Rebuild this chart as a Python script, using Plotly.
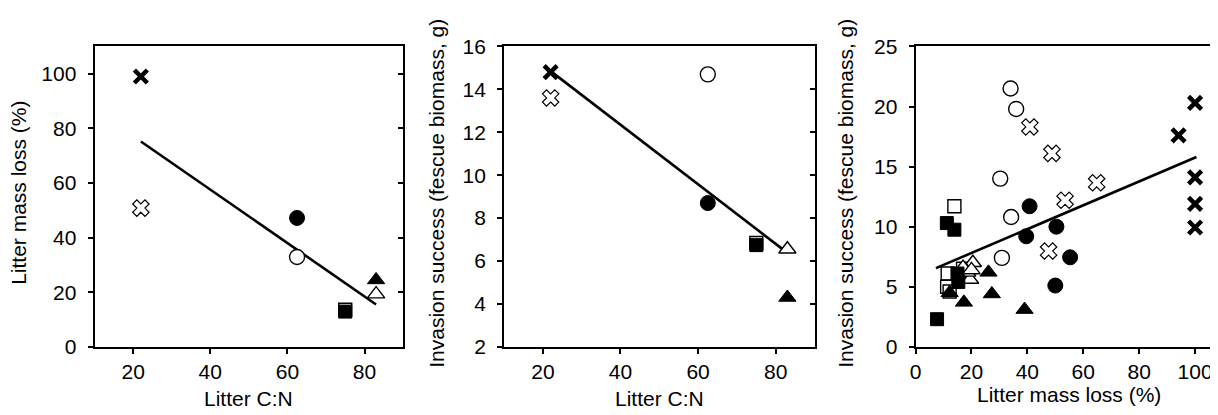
import plotly.graph_objects as go

# ---------------- data ----------------
# treatment order: thick X, open X, filled circle, open circle,
#                  open square, filled square, open triangle, filled triangle
treatments = ["X_filled", "X_open", "circle_filled", "circle_open",
              "square_open", "square_filled", "tri_open", "tri_filled"]

litter_cn = [22, 22, 62.5, 62.5, 75, 75, 83, 83]
mass_loss_mean = [99, 50.8, 47.2, 32.9, 13.6, 12.9, 19.3, 24.5]
invasion_mean = [14.8, 13.6, 8.7, 14.7, 6.84, 6.74, 6.55, 4.3]

# replicate data for panel 3: (mass loss %, invasion g)
ml_X_filled = [100, 94.1, 100, 100, 100]
inv_X_filled = [20.3, 17.6, 14.1, 11.9, 9.93]
ml_X_open = [40.9, 48.8, 64.8, 53.5, 47.6]
inv_X_open = [18.3, 16.1, 13.65, 12.2, 7.97]
ml_circle_open = [34.0, 36.0, 30.3, 34.2, 30.9]
inv_circle_open = [21.5, 19.8, 14.0, 10.8, 7.4]
ml_circle_filled = [40.8, 39.6, 50.4, 55.3, 50.0]
inv_circle_filled = [11.7, 9.2, 10.0, 7.45, 5.1]
ml_square_open = [13.9, 11.5, 11.3, 12.2, 17.0]
inv_square_open = [11.7, 6.1, 5.0, 4.6, 6.5]
ml_square_filled = [7.7, 11.2, 13.9, 15.0, 15.3]
inv_square_filled = [2.3, 10.3, 9.75, 6.1, 5.4]
ml_tri_open = [20.5, 19.5, 18.5, 17.0, 20.0]
inv_tri_open = [7.0, 5.6, 6.2, 6.6, 6.4]
ml_tri_filled = [12.2, 17.3, 26.1, 27.3, 39.0]
inv_tri_filled = [4.5, 3.7, 6.2, 4.4, 3.1]

# regression lines
fit1_x = [22, 83]
fit1_y = [75.2, 15.5]
fit2_x = [22, 82.5]
fit2_y = [14.85, 6.45]
fit3_x = [7.3, 100.5]
fit3_y = [6.55, 15.8]

# tick labels
x12_ticks = [20, 40, 60, 80]
y1_ticks = [0, 20, 40, 60, 80, 100]
y2_ticks = [2, 4, 6, 8, 10, 12, 14, 16]
x3_ticks = [0, 20, 40, 60, 80, 100]
y3_ticks = [0, 5, 10, 15, 20, 25]

# ---------------- styles ----------------
FONT = "Liberation Sans, Arial, sans-serif"
style = {
    "X_filled": dict(symbol="x-thin", size=13, color="black", line=dict(color="black", width=4.5)),
    "X_open": dict(symbol="x", size=14.5, color="white", line=dict(color="black", width=1.2)),
    "circle_filled": dict(symbol="circle", size=15, color="black", line=dict(color="black", width=1)),
    "circle_open": dict(symbol="circle", size=15, color="white", line=dict(color="black", width=1.4)),
    "square_open": dict(symbol="square", size=13, color="white", line=dict(color="black", width=1.4)),
    "square_filled": dict(symbol="square", size=13, color="black", line=dict(color="black", width=1)),
    "tri_open": dict(symbol="triangle-up", size=15, color="white", line=dict(color="black", width=1.4)),
    "tri_filled": dict(symbol="triangle-up", size=15, color="black", line=dict(color="black", width=1)),
}

panel3 = {
    "square_open": (ml_square_open, inv_square_open),
    "tri_open": (ml_tri_open, inv_tri_open),
    "square_filled": (ml_square_filled, inv_square_filled),
    "tri_filled": (ml_tri_filled, inv_tri_filled),
    "circle_open": (ml_circle_open, inv_circle_open),
    "circle_filled": (ml_circle_filled, inv_circle_filled),
    "X_open": (ml_X_open, inv_X_open),
    "X_filled": (ml_X_filled, inv_X_filled),
}

fig = go.Figure()

line_style = dict(color="black", width=2.6)

# panel 1 & 2
fig.add_trace(go.Scatter(x=fit1_x, y=fit1_y, mode="lines", line=line_style, xaxis="x", yaxis="y"))
fig.add_trace(go.Scatter(x=fit2_x, y=fit2_y, mode="lines", line=line_style, xaxis="x2", yaxis="y2"))
for i, t in enumerate(treatments):
    fig.add_trace(go.Scatter(x=[litter_cn[i]], y=[mass_loss_mean[i]], mode="markers",
                             marker=style[t], xaxis="x", yaxis="y"))
    fig.add_trace(go.Scatter(x=[litter_cn[i]], y=[invasion_mean[i]], mode="markers",
                             marker=style[t], xaxis="x2", yaxis="y2"))

# panel 3
fig.add_trace(go.Scatter(x=fit3_x, y=fit3_y, mode="lines", line=line_style, xaxis="x3", yaxis="y3"))
for t, (xs, ys) in panel3.items():
    fig.add_trace(go.Scatter(x=xs, y=ys, mode="markers", marker=style[t], xaxis="x3", yaxis="y3"))

# ---------------- axes ----------------
W, H = 1218, 415
def px_x(a, b):
    return [a / W, b / W]

ydom = [1 - 346 / H, 1 - 28 / H]
tickfont = dict(family=FONT, size=21, color="black")

def xax(dom, rng, ticks, anchor):
    return dict(domain=dom, range=rng, tickvals=ticks, anchor=anchor,
                showline=True, linewidth=2, linecolor="black", mirror=True,
                ticks="outside", ticklen=5, tickwidth=2, tickcolor="black",
                ticklabelstandoff=0,
                showgrid=False, zeroline=False, tickfont=tickfont, fixedrange=True)

def yax(rng, ticks, anchor):
    return dict(domain=ydom, range=rng, tickvals=ticks, anchor=anchor,
                showline=True, linewidth=2, linecolor="black", mirror=True,
                ticks="outside", ticklen=5, tickwidth=2, tickcolor="black",
                ticklabelstandoff=7,
                showgrid=False, zeroline=False, tickfont=tickfont, fixedrange=True)

def yright(rng, ticks, over, anchor):
    return dict(domain=ydom, range=rng, tickvals=ticks, overlaying=over, side="right",
                anchor=anchor, showline=False, ticks="inside", ticklen=5, tickwidth=2,
                tickcolor="black", showticklabels=False, showgrid=False, zeroline=False,
                fixedrange=True)

d1 = px_x(81, 391)
d2 = px_x(492.5, 804.5)
d3 = px_x(906, 1215)

fig.update_layout(
    width=W, height=H,
    margin=dict(l=0, r=0, t=0, b=0),
    paper_bgcolor="white", plot_bgcolor="white",
    showlegend=False,
    font=dict(family=FONT, color="black"),
    xaxis=xax(d1, [10, 90], x12_ticks, "y"),
    yaxis=yax([0, 110], y1_ticks, "x"),
    xaxis2=xax(d2, [10, 90], x12_ticks, "y2"),
    yaxis2=yax([2, 16], y2_ticks, "x2"),
    xaxis3=xax(d3, [0, 110], x3_ticks, "y3"),
    yaxis3=yax([0, 25], y3_ticks, "x3"),
    yaxis4=yright([0, 110], y1_ticks, "y", "x"),
    yaxis5=yright([2, 16], y2_ticks, "y2", "x2"),
    yaxis6=yright([0, 25], y3_ticks, "y3", "x3"),
)
# dummy traces to activate right axes
fig.add_trace(go.Scatter(x=[None], y=[None], xaxis="x", yaxis="y4", showlegend=False))
fig.add_trace(go.Scatter(x=[None], y=[None], xaxis="x2", yaxis="y5", showlegend=False))
fig.add_trace(go.Scatter(x=[None], y=[None], xaxis="x3", yaxis="y6", showlegend=False))

title_font = dict(family=FONT, size=21, color="black")
ymid = 1 - 183 / H
annots = [
    dict(text="Litter mass loss (%)", x=5 / W, y=ymid, textangle=-90),
    dict(text="Invasion success (fescue biomass, g)", x=425 / W, y=ymid, textangle=-90),
    dict(text="Invasion success (fescue biomass, g)", x=836 / W, y=ymid, textangle=-90),
    dict(text="Litter C:N", x=(81 + 391) / 2 / W, y=1 - 401 / H),
    dict(text="Litter C:N", x=(492.5 + 804.5) / 2 / W, y=1 - 401 / H),
    dict(text="Litter mass loss (%)", x=(906 + 1215) / 2 / W, y=1 - 396 / H),
]
for a in annots:
    fig.add_annotation(xref="paper", yref="paper", xanchor="center", yanchor="middle",
                       showarrow=False, font=title_font, **a)

fig.write_html("out.html")
